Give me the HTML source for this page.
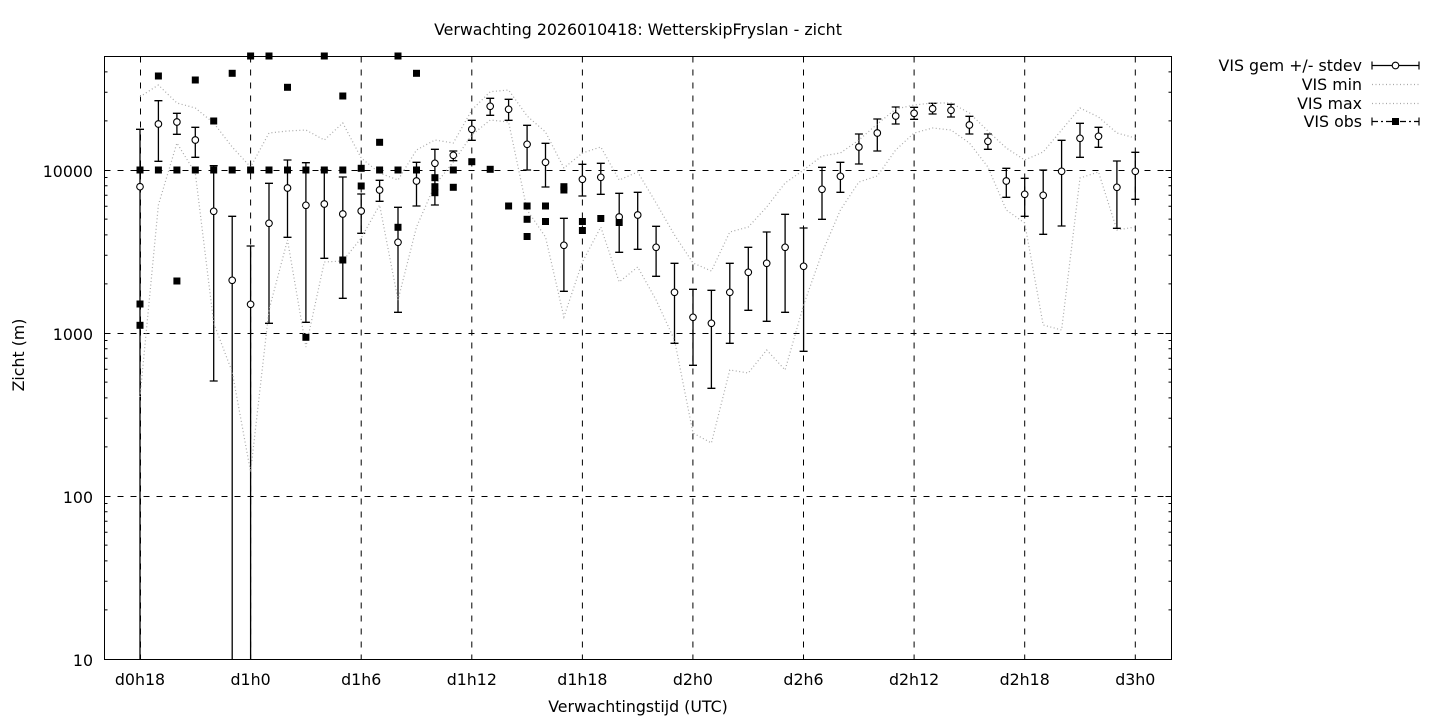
<!DOCTYPE html>
<html><head><meta charset="utf-8"><style>
html,body{margin:0;padding:0;background:#fff;}
svg{display:block;}
text{font-family:"DejaVu Sans","Liberation Sans",sans-serif;font-size:15.8px;fill:#000;}
</style></head><body>
<svg width="1440" height="720" viewBox="0 0 1440 720" xmlns="http://www.w3.org/2000/svg">
<rect x="0" y="0" width="1440" height="720" fill="#fff"/>
<!-- grid -->
<g stroke="#000" stroke-width="1" stroke-dasharray="6,7" fill="none">
<path d="M104.5 170.5H1171.5M104.5 333.5H1171.5M104.5 496.5H1171.5"/>
<path d="M140.5 56.5V659M250.6 56.5V659M361.2 56.5V659M471.8 56.5V659M582.4 56.5V659M692.9 56.5V659M803.5 56.5V659M914.1 56.5V659M1024.7 56.5V659M1135.3 56.5V659"/>
</g>
<!-- ticks -->
<g stroke="#000" stroke-width="1" fill="none">
<path d="M104.5 659.5h6M104.5 496.5h6M104.5 333.5h6M104.5 170.5h6M1171.5 659.5h-6M1171.5 496.5h-6M1171.5 333.5h-6M1171.5 170.5h-6"/>
<path d="M104.5 609.9h3M104.5 581.2h3M104.5 560.9h3M104.5 545.1h3M104.5 532.2h3M104.5 521.2h3M104.5 511.8h3M104.5 503.5h3
M104.5 446.9h3M104.5 418.2h3M104.5 397.9h3M104.5 382.1h3M104.5 369.2h3M104.5 358.2h3M104.5 348.8h3M104.5 340.5h3
M104.5 283.9h3M104.5 255.2h3M104.5 234.9h3M104.5 219.1h3M104.5 206.2h3M104.5 195.2h3M104.5 185.8h3M104.5 177.5h3
M104.5 120.9h3M104.5 92.2h3M104.5 71.9h3
M1171.5 609.9h-3M1171.5 581.2h-3M1171.5 560.9h-3M1171.5 545.1h-3M1171.5 532.2h-3M1171.5 521.2h-3M1171.5 511.8h-3M1171.5 503.5h-3
M1171.5 446.9h-3M1171.5 418.2h-3M1171.5 397.9h-3M1171.5 382.1h-3M1171.5 369.2h-3M1171.5 358.2h-3M1171.5 348.8h-3M1171.5 340.5h-3
M1171.5 283.9h-3M1171.5 255.2h-3M1171.5 234.9h-3M1171.5 219.1h-3M1171.5 206.2h-3M1171.5 195.2h-3M1171.5 185.8h-3M1171.5 177.5h-3
M1171.5 120.9h-3M1171.5 92.2h-3M1171.5 71.9h-3"/>
</g>
<!-- error bars -->
<g stroke="#000" stroke-width="1.3" fill="none">
<path d="M140 129.3V659M136 129.3H144
M158.4 100.7V161.3M154.4 100.7H162.4M154.4 161.3H162.4
M176.9 113.3V134.3M172.9 113.3H180.9M172.9 134.3H180.9
M195.3 127.3V157.3M191.3 127.3H199.3M191.3 157.3H199.3
M213.7 165.7V381M209.7 165.7H217.7M209.7 381H217.7
M232.2 216.3V659M228.2 216.3H236.2
M250.6 246V659M246.6 246H254.6
M269 183.3V323.3M265 183.3H273M265 323.3H273
M287.5 160V237.3M283.5 160H291.5M283.5 237.3H291.5
M305.9 162.7V322.3M301.9 162.7H309.9M301.9 322.3H309.9
M324.3 170V258.3M320.3 170H328.3M320.3 258.3H328.3
M342.8 177V298.3M338.8 177H346.8M338.8 298.3H346.8
M361.2 194V233.3M357.2 194H365.2M357.2 233.3H365.2
M379.6 180.3V201.3M375.6 180.3H383.6M375.6 201.3H383.6
M398 207.3V312.3M394 207.3H402M394 312.3H402
M416.5 162.3V206M412.5 162.3H420.5M412.5 206H420.5
M434.9 149.3V205M430.9 149.3H438.9M430.9 205H438.9
M453.3 151V160.7M449.3 151H457.3M449.3 160.7H457.3
M471.8 120.3V140.3M467.8 120.3H475.8M467.8 140.3H475.8
M490.2 98.3V115.3M486.2 98.3H494.2M486.2 115.3H494.2
M508.6 99.3V120.3M504.6 99.3H512.6M504.6 120.3H512.6
M527.1 125.3V170M523.1 125.3H531.1M523.1 170H531.1
M545.5 143.3V187M541.5 143.3H549.5M541.5 187H549.5
M563.9 218.3V291.3M559.9 218.3H567.9M559.9 291.3H567.9
M582.4 164.3V196M578.4 164.3H586.4M578.4 196H586.4
M600.8 163.3V194.3M596.8 163.3H604.8M596.8 194.3H604.8
M619.2 193.3V252.3M615.2 193.3H623.2M615.2 252.3H623.2
M637.7 192.3V249.3M633.7 192.3H641.7M633.7 249.3H641.7
M656.1 226.3V276.3M652.1 226.3H660.1M652.1 276.3H660.1
M674.5 263.3V343.3M670.5 263.3H678.5M670.5 343.3H678.5
M693 289.3V365.3M689 289.3H697M689 365.3H697
M711.4 290.3V388.3M707.4 290.3H715.4M707.4 388.3H715.4
M729.8 263.3V343.3M725.8 263.3H733.8M725.8 343.3H733.8
M748.3 247.3V310.3M744.3 247.3H752.3M744.3 310.3H752.3
M766.7 232V321.3M762.7 232H770.7M762.7 321.3H770.7
M785.1 214.3V312.3M781.1 214.3H789.1M781.1 312.3H789.1
M803.6 228V351.3M799.6 228H807.6M799.6 351.3H807.6
M822 167.3V219.3M818 167.3H826M818 219.3H826
M840.4 162.3V192.3M836.4 162.3H844.4M836.4 192.3H844.4
M858.9 134V164M854.9 134H862.9M854.9 164H862.9
M877.3 119V151M873.3 119H881.3M873.3 151H881.3
M895.7 107V124M891.7 107H899.7M891.7 124H899.7
M914.1 107.3V119.3M910.1 107.3H918.1M910.1 119.3H918.1
M932.6 103.3V114M928.6 103.3H936.6M928.6 114H936.6
M951 104.3V117M947 104.3H955M947 117H955
M969.4 116.3V134M965.4 116.3H973.4M965.4 134H973.4
M987.9 134V149.3M983.9 134H991.9M983.9 149.3H991.9
M1006.3 168.3V197.3M1002.3 168.3H1010.3M1002.3 197.3H1010.3
M1024.7 178.3V216.3M1020.7 178.3H1028.7M1020.7 216.3H1028.7
M1043.2 170V234.3M1039.2 170H1047.2M1039.2 234.3H1047.2
M1061.6 140.3V226M1057.6 140.3H1065.6M1057.6 226H1065.6
M1080 123.3V157.3M1076 123.3H1084M1076 157.3H1084
M1098.5 127.3V147.3M1094.5 127.3H1102.5M1094.5 147.3H1102.5
M1116.9 161V228.3M1112.9 161H1120.9M1112.9 228.3H1120.9
M1135.3 152.3V199.3M1131.3 152.3H1139.3M1131.3 199.3H1139.3"/>
</g>
<!-- circles -->
<g stroke="#000" stroke-width="1.1" fill="#fff">
<circle cx="140" cy="186.7" r="3.3"/><circle cx="158.4" cy="124" r="3.3"/><circle cx="176.9" cy="122" r="3.3"/><circle cx="195.3" cy="140" r="3.3"/><circle cx="213.7" cy="211.3" r="3.3"/><circle cx="232.2" cy="280.3" r="3.3"/><circle cx="250.6" cy="304.3" r="3.3"/><circle cx="269" cy="223.3" r="3.3"/><circle cx="287.5" cy="188" r="3.3"/><circle cx="305.9" cy="205.3" r="3.3"/><circle cx="324.3" cy="204" r="3.3"/><circle cx="342.8" cy="214" r="3.3"/><circle cx="361.2" cy="211" r="3.3"/><circle cx="379.6" cy="190" r="3.3"/><circle cx="398" cy="242.3" r="3.3"/><circle cx="416.5" cy="181" r="3.3"/><circle cx="434.9" cy="163.3" r="3.3"/><circle cx="453.3" cy="155.3" r="3.3"/><circle cx="471.8" cy="129.3" r="3.3"/><circle cx="490.2" cy="106.3" r="3.3"/><circle cx="508.6" cy="109.3" r="3.3"/><circle cx="527.1" cy="144.3" r="3.3"/><circle cx="545.5" cy="162.3" r="3.3"/><circle cx="563.9" cy="245.3" r="3.3"/><circle cx="582.4" cy="179.3" r="3.3"/><circle cx="600.8" cy="177.3" r="3.3"/><circle cx="619.2" cy="217" r="3.3"/><circle cx="637.7" cy="215" r="3.3"/><circle cx="656.1" cy="247.3" r="3.3"/><circle cx="674.5" cy="292.3" r="3.3"/><circle cx="693" cy="317.3" r="3.3"/><circle cx="711.4" cy="323.3" r="3.3"/><circle cx="729.8" cy="292.3" r="3.3"/><circle cx="748.3" cy="272.3" r="3.3"/><circle cx="766.7" cy="263.3" r="3.3"/><circle cx="785.1" cy="247.3" r="3.3"/><circle cx="803.6" cy="266.3" r="3.3"/><circle cx="822" cy="189.3" r="3.3"/><circle cx="840.4" cy="176.3" r="3.3"/><circle cx="858.9" cy="147" r="3.3"/><circle cx="877.3" cy="133" r="3.3"/><circle cx="895.7" cy="116" r="3.3"/><circle cx="914.1" cy="113.3" r="3.3"/><circle cx="932.6" cy="108.7" r="3.3"/><circle cx="951" cy="110.3" r="3.3"/><circle cx="969.4" cy="125" r="3.3"/><circle cx="987.9" cy="141.3" r="3.3"/><circle cx="1006.3" cy="181" r="3.3"/><circle cx="1024.7" cy="194.3" r="3.3"/><circle cx="1043.2" cy="195.3" r="3.3"/><circle cx="1061.6" cy="171.3" r="3.3"/><circle cx="1080" cy="138.3" r="3.3"/><circle cx="1098.5" cy="136.3" r="3.3"/><circle cx="1116.9" cy="187.3" r="3.3"/><circle cx="1135.3" cy="171.3" r="3.3"/>
</g>
<!-- min / max -->
<g stroke="#a8a8a8" stroke-width="1.2" stroke-dasharray="1,2.5" fill="none">
<polyline points="140,397 158.4,205 176.9,143 195.3,173 213.7,323 232.2,372 250.6,472 269,310 287.5,240 305.9,347 324.3,262 342.8,261 361.2,238 379.6,205 398,300 416.5,227 434.9,185 453.3,162 471.8,135 490.2,120 508.6,122 527.1,210 545.5,237 563.9,317 582.4,262 600.8,227 619.2,282 637.7,267 656.1,300 674.5,340 693,433 711.4,443 729.8,370 748.3,373 766.7,350 785.1,370 803.6,305 822,253 840.4,210 858.9,182 877.3,176 895.7,150 914.1,133 932.6,128 951,130 969.4,143 987.9,167 1006.3,210 1024.7,223 1043.2,325 1061.6,330 1080,178 1098.5,172 1116.9,230 1135.3,227"/>
<polyline points="140,96.7 158.4,85 176.9,103 195.3,108 213.7,123 232.2,147 250.6,167 269,133 287.5,131 305.9,130 324.3,140 342.8,123 361.2,158 379.6,173 398,180 416.5,150 434.9,140 453.3,143 471.8,110 490.2,91.7 508.6,90 527.1,116 545.5,132 563.9,168 582.4,153 600.8,147 619.2,180 637.7,172 656.1,203 674.5,235 693,263 711.4,271 729.8,232 748.3,227 766.7,207 785.1,183 803.6,170 822,156 840.4,153 858.9,140 877.3,124 895.7,109 914.1,105 932.6,103 951,103 969.4,113 987.9,131 1006.3,148 1024.7,160 1043.2,152 1061.6,130 1080,108 1098.5,117 1116.9,133 1135.3,138"/>
</g>
<!-- obs -->
<g fill="#000" stroke="none">
<rect x="136.5" y="166.5" width="7" height="7"/><rect x="136.5" y="300.5" width="7" height="7"/><rect x="136.5" y="321.8" width="7" height="7"/>
<rect x="154.9" y="72.5" width="7" height="7"/><rect x="154.9" y="166.5" width="7" height="7"/>
<rect x="173.4" y="166.5" width="7" height="7"/><rect x="173.4" y="277.5" width="7" height="7"/>
<rect x="191.8" y="76.5" width="7" height="7"/><rect x="191.8" y="166.5" width="7" height="7"/>
<rect x="210.2" y="117.5" width="7" height="7"/><rect x="210.2" y="166.5" width="7" height="7"/>
<rect x="228.7" y="69.8" width="7" height="7"/><rect x="228.7" y="166.5" width="7" height="7"/>
<rect x="247.1" y="52.5" width="7" height="7"/><rect x="247.1" y="166.5" width="7" height="7"/>
<rect x="265.5" y="52.5" width="7" height="7"/><rect x="265.5" y="166.5" width="7" height="7"/>
<rect x="284" y="83.8" width="7" height="7"/><rect x="284" y="166.5" width="7" height="7"/>
<rect x="302.4" y="166.5" width="7" height="7"/><rect x="302.4" y="333.8" width="7" height="7"/>
<rect x="320.8" y="52.5" width="7" height="7"/><rect x="320.8" y="166.5" width="7" height="7"/>
<rect x="339.3" y="92.5" width="7" height="7"/><rect x="339.3" y="166.5" width="7" height="7"/><rect x="339.3" y="256.5" width="7" height="7"/>
<rect x="357.7" y="164.8" width="7" height="7"/><rect x="357.7" y="182.5" width="7" height="7"/>
<rect x="376.1" y="138.8" width="7" height="7"/><rect x="376.1" y="166.5" width="7" height="7"/>
<rect x="394.5" y="52.5" width="7" height="7"/><rect x="394.5" y="166.5" width="7" height="7"/><rect x="394.5" y="223.8" width="7" height="7"/>
<rect x="413" y="69.8" width="7" height="7"/><rect x="413" y="166.5" width="7" height="7"/>
<rect x="431.4" y="174.2" width="7" height="7"/><rect x="431.4" y="183.2" width="7" height="7"/><rect x="431.4" y="189.2" width="7" height="7"/>
<rect x="449.8" y="166.5" width="7" height="7"/><rect x="449.8" y="183.8" width="7" height="7"/>
<rect x="468.3" y="158.2" width="7" height="7"/>
<rect x="486.7" y="165.8" width="7" height="7"/>
<rect x="505.1" y="202.5" width="7" height="7"/>
<rect x="523.6" y="202.5" width="7" height="7"/><rect x="523.6" y="215.8" width="7" height="7"/><rect x="523.6" y="233" width="7" height="7"/>
<rect x="542" y="202.5" width="7" height="7"/><rect x="542" y="218" width="7" height="7"/>
<rect x="560.4" y="183.2" width="7" height="7"/><rect x="560.4" y="186.5" width="7" height="7"/>
<rect x="578.9" y="218" width="7" height="7"/><rect x="578.9" y="227" width="7" height="7"/>
<rect x="597.3" y="215" width="7" height="7"/>
<rect x="615.7" y="219" width="7" height="7"/>
</g>
<!-- frame -->
<rect x="104.5" y="56.5" width="1067" height="603" fill="none" stroke="#000" stroke-width="1"/>
<!-- labels -->
<text x="638" y="35" text-anchor="middle">Verwachting 2026010418: WetterskipFryslan - zicht</text>
<g text-anchor="end">
<text x="93" y="666">10</text>
<text x="93" y="503">100</text>
<text x="93" y="340">1000</text>
<text x="93" y="177">10000</text>
</g>
<g text-anchor="middle">
<text x="140" y="685">d0h18</text>
<text x="250.6" y="685">d1h0</text>
<text x="361.2" y="685">d1h6</text>
<text x="471.8" y="685">d1h12</text>
<text x="582.4" y="685">d1h18</text>
<text x="692.9" y="685">d2h0</text>
<text x="803.5" y="685">d2h6</text>
<text x="914.1" y="685">d2h12</text>
<text x="1024.7" y="685">d2h18</text>
<text x="1135.3" y="685">d3h0</text>
<text x="638" y="712">Verwachtingstijd (UTC)</text>
<text transform="translate(24,355) rotate(-90)">Zicht (m)</text>
</g>
<!-- legend -->
<g text-anchor="end">
<text x="1362" y="71">VIS gem +/- stdev</text>
<text x="1362" y="90">VIS min</text>
<text x="1362" y="109">VIS max</text>
<text x="1362" y="127">VIS obs</text>
</g>
<g stroke="#000" stroke-width="1.2" fill="none">
<path d="M1372 65.5H1419M1372 61.5V69.5M1419 61.5V69.5"/>
<path d="M1372 121.5H1419" stroke-dasharray="6,3,2,3"/>
<path d="M1372 117.5V125.5M1419 117.5V125.5"/>
</g>
<circle cx="1395.5" cy="65.5" r="3.3" fill="#fff" stroke="#000" stroke-width="1.1"/>
<rect x="1392" y="118" width="7" height="7" fill="#000"/>
<g stroke="#a8a8a8" stroke-width="1.2" stroke-dasharray="1,2.5" fill="none">
<path d="M1372 84.5H1419M1372 103.5H1419"/>
</g>
</svg>
</body></html>
